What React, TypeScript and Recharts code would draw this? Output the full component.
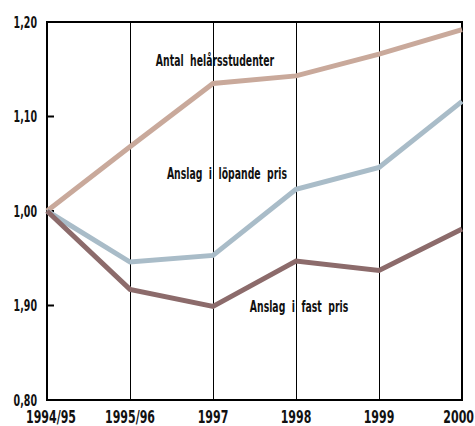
import { LineChart, Line, XAxis, YAxis, CartesianGrid, ReferenceArea, ReferenceDot, ReferenceLine } from "recharts";

const categories = ["1994/95", "1995/96", "1997", "1998", "1999", "2000"];
const antalHelarsstudenter = [1.0, 1.068, 1.135, 1.143, 1.166, 1.192];
const anslagLopandePris = [1.0, 0.946, 0.953, 1.023, 1.046, 1.116];
const anslagFastPris = [1.0, 0.917, 0.899, 0.947, 0.937, 0.981];

const yTicks = [0.8, 0.9, 1.0, 1.1, 1.2];
// the source prints 0,90 as "1,90"
const yTickLabels = ["0,80", "1,90", "1,00", "1,10", "1,20"];

const labels = [
  { text: "Antal  helårsstudenter", x: "1997", y: 1.159, dx: 2 },
  { text: "Anslag  i  löpande  pris", x: "1997", y: 1.0395, dx: 14 },
  { text: "Anslag  i  fast  pris", x: "1998", y: 0.899, dx: 3 },
];

const data = categories.map((c, i) => ({
  year: c,
  antal: antalHelarsstudenter[i],
  lopande: anslagLopandePris[i],
  fast: anslagFastPris[i],
}));

const font = "'DejaVu Sans Condensed', 'DejaVu Sans', sans-serif";

// condensed look of the original typeface: squeeze text horizontally
const NarrowText = ({ x, y, anchor, size, sx, children }: any) => (
  <g transform={`translate(${x},${y}) scale(${sx},1)`}>
    <text
      x={0}
      y={0}
      dy="0.35em"
      textAnchor={anchor}
      fontFamily={font}
      fontWeight="bold"
      fontSize={size}
      fill="#111"
      style={{ whiteSpace: "pre" }}
    >
      {children}
    </text>
  </g>
);

const XTick = ({ x, y, payload, index }: any) => {
  const last = index === categories.length - 1;
  return (
    <NarrowText x={last ? 474 : x + (index === 0 ? 4 : 0)} y={y + 9} anchor={last ? "end" : "middle"} size={17} sx={0.72}>
      {payload.value}
    </NarrowText>
  );
};

const YTick = ({ y, payload }: any) => {
  const i = yTicks.findIndex((t) => Math.abs(t - payload.value) < 1e-6);
  return (
    <NarrowText x={37} y={y} anchor="end" size={16} sx={0.66}>
      {i >= 0 ? yTickLabels[i] : ""}
    </NarrowText>
  );
};

// short inward tick mark drawn from the left end of a reference line
const InwardTick = (p: any) => (
  <path d={`M${p.x1},${p.y1}h7`} stroke="#000" strokeWidth={2} fill="none" />
);

export default function App() {
  return (
    <div style={{ position: "absolute", left: 0, top: 0, background: "#fff" }}>
      <LineChart width={475} height={426} data={data} margin={{ top: 22, right: 13, bottom: 0, left: 0 }}>
        <CartesianGrid horizontal={false} stroke="#000" strokeWidth={1} shapeRendering="crispEdges" />
        <XAxis dataKey="year" axisLine={false} tickLine={false} height={26} tick={<XTick />} interval={0} />
        <YAxis
          domain={[0.8, 1.2]}
          ticks={yTicks}
          width={47}
          axisLine={false}
          tickLine={false}
          tick={<YTick />}
        />
        <ReferenceArea
          x1={categories[0]}
          x2={categories[categories.length - 1]}
          y1={0.8}
          y2={1.2}
          fill="none"
          fillOpacity={0}
          stroke="#000"
          strokeWidth={2}
          ifOverflow="visible"
        />
        {yTicks.slice(1, -1).map((t) => (
          <ReferenceLine key={t} y={t} stroke="#000" shape={InwardTick} />
        ))}
        <Line type="linear" dataKey="antal" stroke="#c9a99b" strokeWidth={5} dot={false} isAnimationActive={false} />
        <Line type="linear" dataKey="lopande" stroke="#a9bcc8" strokeWidth={5} dot={false} isAnimationActive={false} />
        <Line type="linear" dataKey="fast" stroke="#8c6b6b" strokeWidth={5} dot={false} isAnimationActive={false} />
        {labels.map((l) => (
          <ReferenceDot
            key={l.text}
            x={l.x}
            y={l.y}
            r={0}
            fill="none"
            stroke="none"
            ifOverflow="visible"
            label={(p: any) => (
              <NarrowText x={p.viewBox.x + l.dx} y={p.viewBox.y} anchor="middle" size={15} sx={0.69}>
                {l.text}
              </NarrowText>
            )}
          />
        ))}
      </LineChart>
    </div>
  );
}
